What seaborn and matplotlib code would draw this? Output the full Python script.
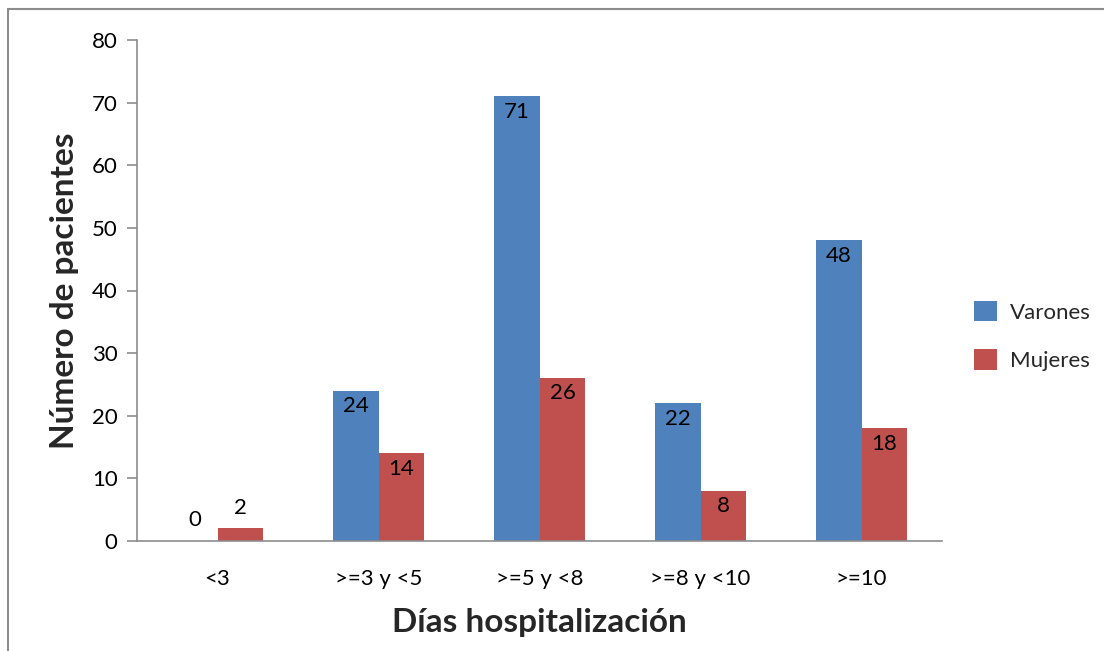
import matplotlib
matplotlib.use("Agg")
import matplotlib.pyplot as plt
from matplotlib.patches import Rectangle, Patch
import seaborn as sns
import pandas as pd

categories = ["<3", ">=3 y <5", ">=5 y <8", ">=8 y <10", ">=10"]
varones = [0, 24, 71, 22, 48]
mujeres = [2, 14, 26, 8, 18]
series_names = ["Varones", "Mujeres"]
y_ticks = [0, 10, 20, 30, 40, 50, 60, 70, 80]

colors = ["#4F81BD", "#C0504D"]
font = "Lato"

sns.set_theme(style="white")
plt.rcParams["font.family"] = [font, "DejaVu Sans"]

df = pd.DataFrame({
    "cat": categories * 2,
    "serie": [series_names[0]] * len(categories) + [series_names[1]] * len(categories),
    "valor": varones + mujeres,
})

fig = plt.figure(figsize=(11.04, 6.51), dpi=100)
ax = fig.add_axes([137 / 1104, 1 - 541 / 651, (942 - 137) / 1104, (541 - 40) / 651])

sns.barplot(data=df, x="cat", y="valor", hue="serie", order=categories,
            hue_order=series_names, palette=colors, width=0.57, gap=0,
            saturation=1, ax=ax, legend=False, edgecolor="none")

ax.set_xlim(-0.5, 4.5)
ax.set_ylim(0, 80)
ax.set_yticks(y_ticks)
ax.tick_params(axis="y", left=True, direction="out", length=7, width=1.2, color="#8C8C8C",
               labelsize=16, pad=7)
ax.tick_params(axis="x", bottom=False, length=0, labelsize=16, pad=20)
for side in ["top", "right"]:
    ax.spines[side].set_visible(False)
for side in ["left", "bottom"]:
    ax.spines[side].set_color("#8C8C8C")
    ax.spines[side].set_linewidth(1.2)
for lab in ax.get_xticklabels() + ax.get_yticklabels():
    lab.set_color("black")

ax.set_xlabel("Días hospitalización", fontsize=24, fontweight="bold", labelpad=14)
ax.set_ylabel("Número de pacientes", fontsize=24, fontweight="bold", labelpad=9)

# value labels: inside the top of the bar, above it when the bar is too short
for container in ax.containers:
    for bar in container:
        h = bar.get_height()
        x = bar.get_x() + bar.get_width() / 2
        if h < 5:
            ax.annotate(f"{h:.0f}", (x, h), xytext=(0, 15), textcoords="offset points",
                        ha="center", va="center", fontsize=16, color="black")
        else:
            ax.annotate(f"{h:.0f}", (x, h), xytext=(0, -11), textcoords="offset points",
                        ha="center", va="center", fontsize=16, color="black")

handles = [Patch(facecolor=c, edgecolor="none") for c in colors]
fig.legend(handles, series_names, loc="center left", bbox_to_anchor=(954 / 1104, 1 - 336 / 651),
           frameon=False, fontsize=16, handlelength=1.05, handleheight=1.05,
           handletextpad=0.55, labelspacing=1.2)

# chart area frame
fig.add_artist(Rectangle((8 / 1104, -0.05), 1.2, 1 - 9 / 651 + 0.05, transform=fig.transFigure,
                         fill=False, edgecolor="#8C8C8C", linewidth=1.5))

fig.savefig("out.png", dpi=100)
